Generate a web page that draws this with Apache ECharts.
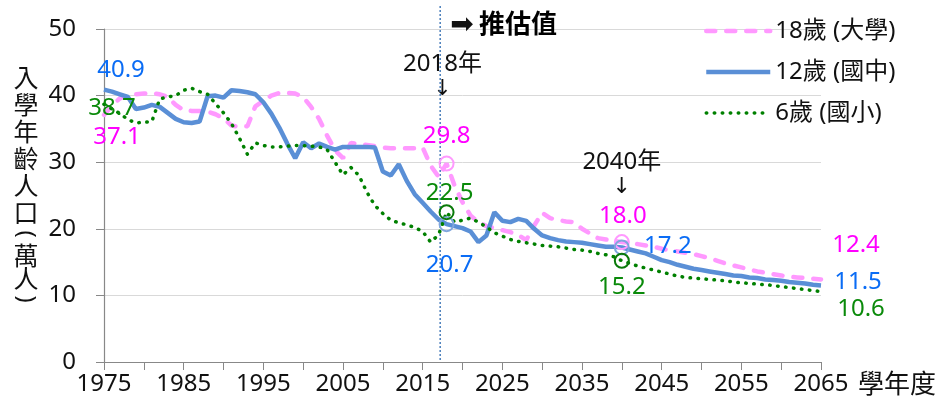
<!DOCTYPE html>
<html lang="zh-Hant">
<head>
<meta charset="UTF-8">
<title>入學年齡人口</title>
<script src="https://cdn.jsdelivr.net/npm/echarts@6/dist/echarts.min.js"></script>
<style>html,body{margin:0;padding:0;background:#fff;}</style>
</head>
<body>
<div id="main" style="width:947px;height:405px;"></div>
<script>
// 學年度
var years = [
  1975,1976,1977,1978,1979,1980,1981,1982,1983,1984,
  1985,1986,1987,1988,1989,1990,1991,1992,1993,1994,
  1995,1996,1997,1998,1999,2000,2001,2002,2003,2004,
  2005,2006,2007,2008,2009,2010,2011,2012,2013,2014,
  2015,2016,2017,2018,2019,2020,2021,2022,2023,2024,
  2025,2026,2027,2028,2029,2030,2031,2032,2033,2034,
  2035,2036,2037,2038,2039,2040,2041,2042,2043,2044,
  2045,2046,2047,2048,2049,2050,2051,2052,2053,2054,
  2055,2056,2057,2058,2059,2060,2061,2062,2063,2064,
  2065
];
// 18歲 (大學)，萬人
var age18 = [
  37.1,38.5,39.6,40.0,40.2,40.3,40.4,40.2,39.8,38.6,
  37.8,37.7,37.7,37.6,37.2,36.6,35.5,35.3,35.4,38.4,
  39.2,40.0,40.4,40.4,40.3,39.8,38.3,36.5,34.0,31.8,
  30.6,32.9,32.7,32.6,32.4,32.2,32.1,32.1,32.1,32.1,
  32.2,29.5,27.8,29.8,26.5,24.0,22.0,21.0,20.4,20.1,
  19.8,19.5,19.1,18.3,20.5,22.4,21.6,21.3,21.1,21.0,
  20.0,19.3,18.6,18.4,18.2,18.0,17.9,17.7,17.5,17.3,
  17.0,16.8,16.6,16.4,16.2,15.9,15.6,15.2,14.8,14.5,
  14.2,13.9,13.6,13.4,13.2,13.0,12.8,12.7,12.6,12.5,
  12.4
];
// 12歲 (國中)
var age12 = [
  40.9,40.6,40.2,39.8,38.0,38.2,38.6,38.3,37.4,36.5,
  36.0,35.9,36.1,39.9,40.0,39.7,40.8,40.7,40.5,40.2,
  39.0,37.3,35.2,32.8,30.6,33.0,32.1,32.8,32.3,31.9,
  32.3,32.3,32.3,32.3,32.2,28.6,28.0,29.7,27.2,25.2,
  23.9,22.6,21.4,20.7,20.4,20.1,19.6,18.0,19.0,22.5,
  21.2,21.0,21.5,21.2,20.0,19.0,18.6,18.3,18.1,18.0,
  17.9,17.7,17.5,17.3,17.3,17.2,16.9,16.6,16.3,15.8,
  15.3,15.0,14.6,14.3,14.0,13.8,13.6,13.4,13.2,13.0,
  12.9,12.7,12.6,12.4,12.3,12.2,12.0,11.9,11.8,11.6,
  11.5
];
// 6歲 (國小)
var age6 = [
  38.7,38.0,37.3,36.4,35.9,36.0,36.1,39.5,39.8,40.0,
  40.8,41.1,40.6,40.2,38.8,37.4,35.8,33.6,31.2,32.9,
  32.5,32.3,32.3,32.4,32.5,32.5,32.4,32.3,31.9,30.0,
  28.1,29.2,28.0,25.5,23.5,22.3,21.3,20.9,20.6,20.2,
  19.6,18.0,19.1,22.5,21.0,21.3,21.6,21.0,20.3,19.4,
  18.9,18.4,18.1,17.9,17.7,17.5,17.4,17.3,17.1,16.9,
  16.8,16.6,16.3,16.1,15.8,15.2,14.8,14.4,14.1,13.8,
  13.5,13.2,12.9,12.7,12.6,12.5,12.4,12.3,12.2,12.0,
  11.9,11.8,11.7,11.6,11.5,11.3,11.2,11.0,10.9,10.7,
  10.6
];
var seriesNames = ['18歲 (大學)', '12歲 (國中)', '6歲 (國小)'];
var markYears = [2018, 2040];
var estimateFrom = 2017.2;   // 推估值分隔線

var FONT = '"Noto Sans", "Noto Sans CJK TC", sans-serif';
var CJK = '"Noto Sans CJK TC"';

var styles18 = { color: '#ff99ff', width: 4.5, type: [9, 11], cap: 'round' };
var styles12 = { color: '#5a8fd6', width: 4.5 };
var styles6 = { color: '#008000', width: 3.5, type: [0.5, 7.5], cap: 'round' };

function pairs(arr) {
    var out = [];
    for (var i = 0; i < years.length; i++) out.push([years[i], arr[i]]);
    return out;
}
function valAt(arr, yr) { return arr[years.indexOf(yr)]; }

// 標註：圓圈 + 數字
function pt(arr, yr, txtColor, offset, ringColor) {
    var v = valAt(arr, yr);
    return {
        coord: [yr, v],
        value: v.toFixed(1),
        symbol: 'circle',
        symbolSize: ringColor ? 14 : 1,
        itemStyle: ringColor
            ? { color: 'rgba(255,255,255,0)', borderColor: ringColor, borderWidth: 2 }
            : { color: 'rgba(0,0,0,0)', borderWidth: 0 },
        label: {
            show: true, position: 'inside', offset: offset,
            color: txtColor, fontSize: 24, fontFamily: FONT, formatter: '{c}'
        }
    };
}

var first = years[0], last = years[years.length - 1];

var myChart = echarts.init(document.getElementById('main'));
var option = {
    animation: false,
    backgroundColor: '#fff',
    grid: { left: 104, right: 126, top: 29, bottom: 43, outerBoundsMode: 'none' },
    legend: {
        orient: 'vertical', left: 699, top: 13,
        itemWidth: 64, itemHeight: 14, itemGap: 15,
        itemStyle: { opacity: 0 },
        data: [
            { name: seriesNames[0], lineStyle: styles18 },
            { name: seriesNames[1], lineStyle: styles12 },
            { name: seriesNames[2], lineStyle: styles6 }
        ],
        textStyle: { fontSize: 24, fontFamily: FONT, color: '#111', lineHeight: 26 }
    },
    xAxis: {
        type: 'value', min: 1975, max: 2065, interval: 5,
        axisLine: { lineStyle: { color: '#888', width: 1.2 } },
        axisTick: { length: 8, lineStyle: { color: '#888' } },
        splitLine: { show: false },
        axisLabel: {
            fontSize: 24, fontFamily: FONT, color: '#111', margin: 10,
            formatter: function (v) { return (v - 1975) % 10 === 0 ? String(v) : ''; }
        }
    },
    yAxis: {
        type: 'value', min: 0, max: 50, interval: 10,
        axisLine: { show: true, lineStyle: { color: '#888', width: 1.2 } },
        axisTick: { show: true, length: 8, lineStyle: { color: '#888' } },
        splitLine: { lineStyle: { color: '#d9d9d9' } },
        axisLabel: { fontSize: 24, fontFamily: FONT, color: '#111', margin: 28 }
    },
    series: [
        {
            name: seriesNames[0], type: 'line', data: pairs(age18), symbol: 'none',
            lineStyle: styles18, itemStyle: { color: '#ff99ff' },
            markPoint: { data: [
                pt(age18, first, '#ff00ff', [13, 22]),
                pt(age18, last, '#ff00ff', [35, -34]),
                pt(age18, markYears[0], '#ff00ff', [0, -27], '#ff99ff'),
                pt(age18, markYears[1], '#ff00ff', [1, -26], '#ff99ff')
            ] }
        },
        {
            name: seriesNames[1], type: 'line', data: pairs(age12), symbol: 'none',
            lineStyle: styles12, itemStyle: { color: '#5a8fd6' },
            markPoint: { data: [
                pt(age12, first, '#0a6cf5', [17, -19]),
                pt(age12, last, '#0a6cf5', [37, -3]),
                pt(age12, markYears[0], '#0a6cf5', [3, 41], '#7fa6dd'),
                pt(age12, markYears[1], '#0a6cf5', [46, -1], '#7fa6dd')
            ] }
        },
        {
            name: seriesNames[2], type: 'line', data: pairs(age6), symbol: 'none',
            lineStyle: styles6, itemStyle: { color: '#008000' },
            markPoint: { data: [
                pt(age6, first, '#0a8a0a', [8, 4]),
                pt(age6, last, '#0a8a0a', [40, 18]),
                pt(age6, markYears[0], '#0a8a0a', [3, -19], '#0a7a0a'),
                pt(age6, markYears[1], '#0a8a0a', [0, 26], '#0a7a0a')
            ] }
        }
    ]
};
myChart.setOption(option);

// 推估值分隔線與文字註記
var xDiv = myChart.convertToPixel({ xAxisIndex: 0 }, estimateFrom);
var y0 = myChart.convertToPixel({ yAxisIndex: 0 }, 0);
var x18 = myChart.convertToPixel({ xAxisIndex: 0 }, markYears[0]) - 4;
var x40 = myChart.convertToPixel({ xAxisIndex: 0 }, markYears[1]);
function ctext(x, y, t, size, font, rot) {
    return { type: 'text', x: x, y: y, rotation: rot || 0,
             style: { text: t, fontSize: size, fontFamily: font, fill: '#111',
                      align: 'center', verticalAlign: 'middle' } };
}
myChart.setOption({
    graphic: [
        { type: 'line', shape: { x1: xDiv, y1: 6, x2: xDiv, y2: y0 },
          style: { stroke: '#4a7ebb', lineWidth: 1.5, lineDash: [2, 2] }, z: 1 },
        ctext(462, 26, '➡', 28, 'DejaVu Sans'),
        { type: 'text', left: 479, top: 10,
          style: { text: '推估值', fontSize: 26, fontWeight: 'bold', fontFamily: CJK, fill: '#000' } },
        ctext(x18, 64, markYears[0] + '年', 24, FONT),
        ctext(x18, 89, '↓', 22, 'DejaVu Sans'),
        ctext(x40, 162, markYears[1] + '年', 24, FONT),
        ctext(x40, 187, '↓', 22, 'DejaVu Sans'),
        { type: 'text', left: 858, top: 370,
          style: { text: '學年度', fontSize: 26, fontFamily: CJK, fill: '#111' } },
        // 縱軸名稱（直書）
        { type: 'text', x: 26, y: 64,
          style: { text: '入\n學\n年\n齡\n人\n口', fontSize: 25, lineHeight: 27,
                   fontFamily: CJK, fill: '#111', align: 'center' } },
        ctext(26, 234, '(', 24, FONT, -Math.PI / 2),
        ctext(26, 255, '萬', 25, CJK),
        ctext(26, 278, '人', 25, CJK),
        ctext(26, 299, ')', 24, FONT, -Math.PI / 2)
    ]
});
</script>
</body>
</html>
